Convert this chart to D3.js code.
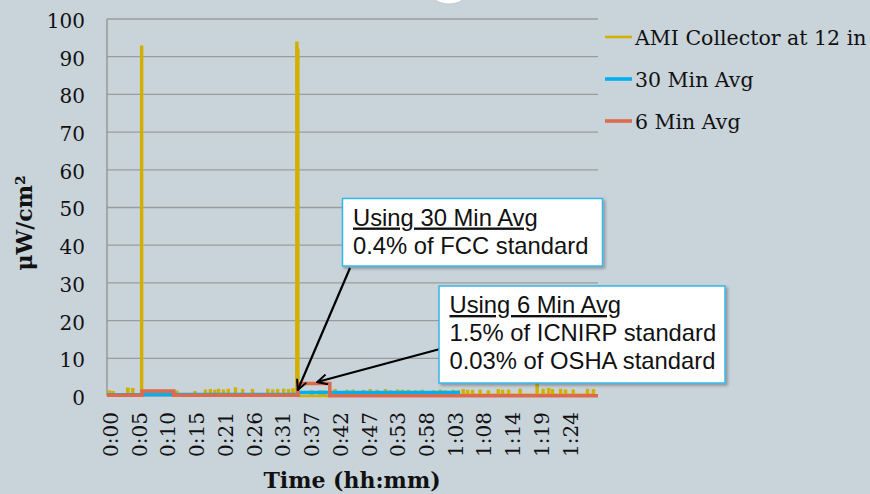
<!DOCTYPE html>
<html>
<head>
<meta charset="utf-8">
<script src="https://cdn.jsdelivr.net/npm/d3@7"></script>
<style>
  body { margin: 0; background: #c8d3da; }
  svg { display: block; }
</style>
</head>
<body>
<div id="container"></div>
<script>
///declare size
let w = 870,
  h = 494;

///data (time in minutes)
const tickMinutes = [0, 5.25, 10.5, 15.75, 21, 26.25, 31.5, 36.75, 42, 47.25, 52.5, 57.75, 63, 68.25, 73.5, 78.75, 84];
const tickLabels = ["0:00", "0:05", "0:10", "0:15", "0:21", "0:26", "0:31", "0:37", "0:42", "0:47", "0:53", "0:58", "1:03", "1:08", "1:14", "1:19", "1:24"];
const yTicks = [0, 10, 20, 30, 40, 50, 60, 70, 80, 90, 100];

const amiTime = [0, 0.3, 0.5, 1.0, 1.2, 3.7, 3.9, 4.6, 4.8, 6.25, 6.4,
  12.7, 12.85, 16.0, 16.15, 17.9, 18.05, 18.8, 18.95, 19.6, 19.75, 20.3, 20.45,
  21.2, 21.35, 22.1, 22.25, 23.4, 23.55, 24.7, 24.85, 26.5, 26.65, 29.3, 29.45,
  30.2, 30.35, 31.1, 31.25, 32.2, 32.35, 33.1, 33.25, 33.9, 34.05,
  34.6, 34.78, 34.95, 37.3, 37.45, 38.8, 38.95, 39.6, 39.75, 40.7,
  41.6, 41.75, 43.8, 43.95, 44.9, 45.05, 46.8, 46.95, 48.0, 48.15, 49.3, 49.45,
  50.8, 50.95, 51.7, 51.85, 53.0, 53.15, 53.9, 54.05, 55.0, 55.15, 56.3, 56.45,
  57.5, 57.65, 59.6, 59.75, 60.8, 60.95, 61.7, 61.85, 63.2, 63.35, 64.1, 64.25,
  65.0, 65.15, 65.8, 65.95, 66.7, 66.85, 68.1, 68.25, 69.6, 69.75, 71.4, 71.55,
  72.2, 72.35, 73.3, 73.45, 75.4, 75.55, 78.5, 78.65, 79.6, 79.75, 80.6, 80.75,
  81.3, 81.45, 82.8, 82.95, 83.7, 83.85, 85.1, 85.25, 87.7, 87.85, 88.8, 88.95, 89.2];
const amiValue = [0.3, 1.2, 0.3, 1.0, 0.3, 1.9, 0.4, 1.8, 0.3, 92.6, 0.4,
  1.1, 0.3, 1.0, 0.3, 1.4, 0.3, 1.5, 0.3, 1.3, 0.3, 1.6, 0.3,
  1.4, 0.3, 1.6, 0.3, 2.0, 0.3, 1.5, 0.3, 1.5, 0.3, 1.6, 0.3,
  1.4, 0.3, 1.5, 0.3, 1.6, 0.3, 1.5, 0.3, 1.7, 0.3,
  93.7, 91.8, 0.0, 1.2, 0.0, 1.2, 0.0, 1.1, 0.0, 0.3,
  1.5, 0.3, 1.3, 0.3, 1.4, 0.3, 1.3, 0.3, 1.5, 0.3, 1.3, 0.3,
  1.5, 0.3, 1.2, 0.3, 1.4, 0.3, 1.3, 0.3, 1.3, 0.3, 1.2, 0.3,
  1.3, 0.3, 1.2, 0.3, 1.4, 0.3, 1.2, 0.3, 1.3, 0.3, 1.2, 0.3,
  1.5, 0.3, 1.3, 0.3, 1.3, 0.3, 1.4, 0.3, 1.2, 0.3, 1.5, 0.3,
  1.3, 0.3, 1.4, 0.3, 1.6, 0.3, 3.4, 0.3, 1.6, 0.3, 1.8, 0.3,
  1.5, 0.3, 1.6, 0.3, 1.4, 0.3, 1.4, 0.3, 1.6, 0.3, 1.5, 0.3, 0.3];

const avg30Time = [0, 6.4, 34.9, 40.7, 64.5];
const avg30Value = [0.3, 0.4, 0.95, 0.9, 0.9];

const avg6Time = [0, 6.4, 12.2, 34.9, 40.7, 89.7];
const avg6Value = [0.2, 1.3, 0.2, 3.3, 0.05, 0.05];

const seriesNames = ["AMI Collector at 12 in", "30 Min Avg", "6 Min Avg"];
const seriesColors = ["#d3b000", "#00b0f0", "#de6a4e"];

const note30 = ["Using 30 Min Avg", "0.4% of FCC standard"];
const note6 = ["Using 6 Min Avg", "1.5% of ICNIRP standard", "0.03% of OSHA standard"];

///svg
let svg = d3.select("#container").
append("svg").
attr("width", w).
attr("height", h);

let defs = svg.append("defs");
defs.append("filter").
attr("id", "shadow").
attr("x", "-10%").attr("y", "-10%").attr("width", "130%").attr("height", "140%").
append("feDropShadow").
attr("dx", 2).attr("dy", 2).attr("stdDeviation", 1.5).
attr("flood-color", "#000").attr("flood-opacity", 0.3);
defs.append("marker").
attr("id", "arrow").
attr("viewBox", "0 0 12 12").
attr("refX", 11).attr("refY", 6).
attr("markerWidth", 12).attr("markerHeight", 12).
attr("markerUnits", "userSpaceOnUse").
attr("orient", "auto").
append("path").
attr("d", "M1,1 L11,6 L1,11").
attr("fill", "none").
attr("stroke", "#000").
attr("stroke-width", 2);

///white blob at top
svg.append("circle").
attr("cx", 449).attr("cy", -22).attr("r", 26).
attr("fill", "#fff").
attr("stroke", "#bcc6cc").
attr("stroke-width", 0.8);

///scales
let x = d3.scaleLinear().
domain([0, 89.7]).
range([107, 598]);
let y = d3.scaleLinear().
domain([0, 100]).
range([396, 19]);

///gridlines
svg.append("g").
selectAll("line").
data(yTicks).
enter().
append("line").
attr("x1", x(0)).
attr("x2", x(89.7)).
attr("y1", d => y(d)).
attr("y2", d => y(d)).
attr("stroke", "#9b9c9d").
attr("stroke-width", 1.3);

svg.append("line").
attr("x1", x(0)).attr("x2", x(0)).
attr("y1", y(100)).attr("y2", y(0)).
attr("stroke", "#8f9092").
attr("stroke-width", 1.3);

///Y-Axis
let yAxisGroup = svg.append("g").
attr("transform", "translate(" + x(0) + ",0)").
call(d3.axisLeft(y).tickValues(yTicks).tickSize(0).tickPadding(22));
yAxisGroup.select(".domain").remove();
yAxisGroup.selectAll("text").
attr("dy", "0.42em").
style("font-family", "'DejaVu Serif', serif").
style("font-size", "20px").
style("fill", "#111");

///X-Axis
let xAxisGroup = svg.append("g").
attr("transform", "translate(0," + y(0) + ")").
call(d3.axisBottom(x).tickValues(tickMinutes).tickFormat((d, i) => tickLabels[i]).tickSize(0));
xAxisGroup.select(".domain").remove();
xAxisGroup.selectAll("text").
attr("transform", "rotate(-90)").
attr("text-anchor", "end").
attr("x", -16).
attr("y", 0).
attr("dy", "0.52em").
style("font-family", "'DejaVu Serif', serif").
style("font-size", "20px").
style("fill", "#111");

///lines
const toPoints = (ts, vs) => ts.map((t, i) => [t, vs[i]]);
let line = d3.line().
x(d => x(d[0])).
y(d => y(d[1])).
curve(d3.curveStepAfter);

svg.append("path").
attr("d", line(toPoints(amiTime, amiValue))).
attr("fill", "none").
attr("stroke", seriesColors[0]).
attr("stroke-width", 2.6);

svg.append("path").
attr("d", line(toPoints(avg30Time, avg30Value))).
attr("fill", "none").
attr("stroke", seriesColors[1]).
attr("stroke-width", 3.5);

svg.append("path").
attr("d", line(toPoints(avg6Time, avg6Value))).
attr("fill", "none").
attr("stroke", seriesColors[2]).
attr("stroke-width", 3.6);

///axis titles
svg.append("text").
attr("transform", "translate(32,223) rotate(-90)").
attr("text-anchor", "middle").
style("font-family", "'DejaVu Serif', serif").
style("font-weight", "bold").
style("font-size", "22px").
style("fill", "#111").
text("μW/cm²");

svg.append("text").
attr("x", 352).
attr("y", 488).
attr("text-anchor", "middle").
style("font-family", "'DejaVu Serif', serif").
style("font-weight", "bold").
style("font-size", "22px").
style("fill", "#111").
text("Time (hh:mm)");

///Legend
const legend = svg.append("g").
attr("transform", "translate(605, 37)");
const legendGroups = legend.selectAll("g").
data(seriesNames).
enter().
append("g").
attr("transform", (d, i) => "translate(0," + i * 42 + ")");
legendGroups.append("line").
attr("x1", 0).attr("x2", 27).
attr("stroke", (d, i) => seriesColors[i]).
attr("stroke-width", (d, i) => i === 0 ? 2.6 : 3.6);
legendGroups.append("text").
attr("x", 30).
attr("y", 8).
style("font-family", "'DejaVu Serif', serif").
style("font-size", "20.5px").
style("fill", "#111").
text(d => d);

///annotations
const drawNote = (lines, bx, by, bw, bh) => {
  let g = svg.append("g");
  g.append("rect").
  attr("x", bx).attr("y", by).
  attr("width", bw).attr("height", bh).
  attr("fill", "#fff").
  attr("stroke", "#35b6e8").
  attr("stroke-width", 1.5).
  attr("filter", "url(#shadow)");
  g.selectAll("text").
  data(lines).
  enter().
  append("text").
  attr("x", bx + 10.5).
  attr("y", (d, i) => by + 27 + i * 28.2).
  style("font-family", "'Liberation Sans', Arial, sans-serif").
  style("font-size", "23.8px").
  style("fill", "#111").
  style("text-decoration", (d, i) => i === 0 ? "underline" : "none").
  text(d => d);
};

///arrows
svg.append("line").
attr("x1", 350).attr("y1", 268).
attr("x2", x(34.85)).attr("y2", y(1.6)).
attr("stroke", "#000").
attr("stroke-width", 2.2).
attr("marker-end", "url(#arrow)");
svg.append("line").
attr("x1", 440).attr("y1", 349).
attr("x2", x(38.4)).attr("y2", y(3.7)).
attr("stroke", "#000").
attr("stroke-width", 2.2).
attr("marker-end", "url(#arrow)");

drawNote(note30, 342.5, 198.5, 260, 67.5);
drawNote(note6, 439, 286, 286, 97);
</script>
</body>
</html>
